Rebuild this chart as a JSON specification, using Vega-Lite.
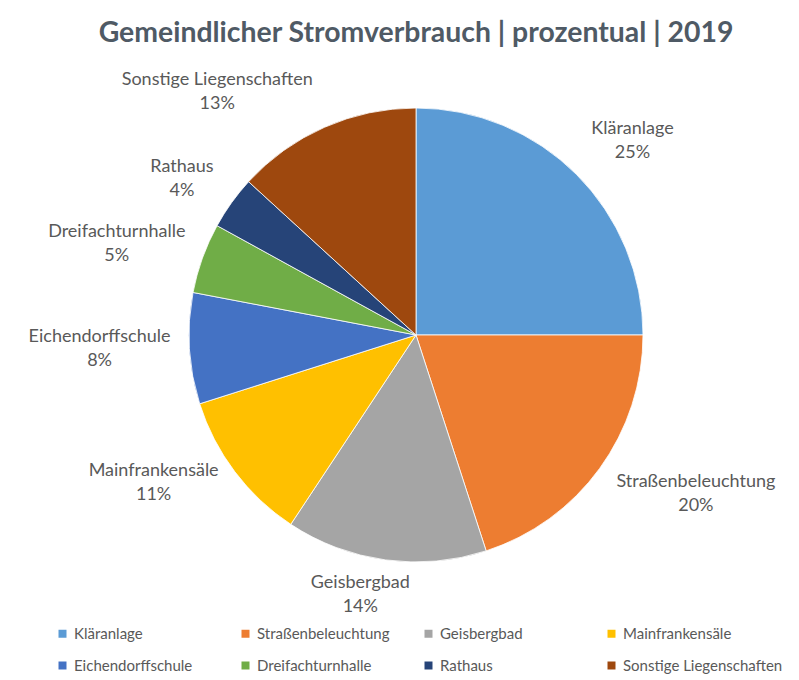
{
  "$schema": "https://vega.github.io/schema/vega-lite/v6.json",
  "autosize": {"type": "none"},
  "width": 766,
  "height": 550,
  "padding": {"left": 33, "top": 60, "right": 0, "bottom": 70},
  "background": "white",
  "title": {
    "text": "Gemeindlicher Stromverbrauch | prozentual | 2019",
    "font": "Lato",
    "fontSize": 28.4,
    "fontWeight": "bold",
    "color": "#4F5A65",
    "anchor": "middle",
    "frame": "group",
    "offset": 12
  },
  "config": {"view": {"stroke": null}},
  "data": {
    "values": [
      {"nr": 1, "name": "Kläranlage", "value": 25.0},
      {"nr": 2, "name": "Straßenbeleuchtung", "value": 20.0},
      {"nr": 3, "name": "Geisbergbad", "value": 14.3},
      {"nr": 4, "name": "Mainfrankensäle", "value": 10.8},
      {"nr": 5, "name": "Eichendorffschule", "value": 7.9},
      {"nr": 6, "name": "Dreifachturnhalle", "value": 5.0},
      {"nr": 7, "name": "Rathaus", "value": 3.8},
      {"nr": 8, "name": "Sonstige Liegenschaften", "value": 13.2}
    ]
  },
  "transform": [
    {"calculate": "datum.name + '\\n' + format(datum.value, '.0f') + '%'", "as": "label"},
    {"stack": "value", "groupby": [], "sort": [{"field": "nr", "order": "ascending"}], "as": ["v0", "v1"]},
    {"calculate": "(datum.v0 + datum.v1) / 2", "as": "mid"}
  ],
  "layer": [
    {
      "mark": {"type": "arc", "outerRadius": 227, "stroke": "white", "strokeWidth": 0.8},
      "encoding": {
        "theta": {"field": "v0", "type": "quantitative", "scale": {"domain": [0, 100]}},
        "theta2": {"field": "v1"},
        "color": {
          "field": "name",
          "type": "nominal",
          "scale": {
            "domain": ["Kläranlage", "Straßenbeleuchtung", "Geisbergbad", "Mainfrankensäle", "Eichendorffschule", "Dreifachturnhalle", "Rathaus", "Sonstige Liegenschaften"],
            "range": ["#5B9BD5", "#ED7D31", "#A5A5A5", "#FFC000", "#4472C4", "#70AD47", "#264478", "#9E480E"]
          },
          "legend": {
            "title": null,
            "orient": "none",
            "direction": "horizontal",
            "legendX": 22,
            "legendY": 566,
            "columns": 4,
            "gridAlign": "all",
            "columnPadding": 4,
            "rowPadding": 16,
            "padding": 0,
            "symbolType": "square",
            "symbolSize": 64,
            "symbolStrokeWidth": 0,
            "labelFont": "Lato",
            "labelFontSize": 15,
            "labelColor": "#595959",
            "labelOffset": 4,
            "labelLimit": 300
          }
        }
      }
    },
    {
      "transform": [{"filter": "datum.name == 'Kläranlage'"}],
      "mark": {"type": "text", "radius": 292, "dx": 10, "font": "Lato", "fontSize": 18, "color": "#595959", "lineBreak": "\n", "lineHeight": 24, "align": "center", "baseline": "middle"},
      "encoding": {"theta": {"field": "mid", "type": "quantitative", "scale": {"domain": [0, 100]}}, "text": {"field": "label"}}
    },
    {
      "transform": [{"filter": "datum.name == 'Straßenbeleuchtung'"}],
      "mark": {"type": "text", "radius": 320, "dx": 21, "dy": -41, "font": "Lato", "fontSize": 18, "color": "#595959", "lineBreak": "\n", "lineHeight": 24, "align": "center", "baseline": "middle"},
      "encoding": {"theta": {"field": "mid", "type": "quantitative", "scale": {"domain": [0, 100]}}, "text": {"field": "label"}}
    },
    {
      "transform": [{"filter": "datum.name == 'Geisbergbad'"}],
      "mark": {"type": "text", "radius": 250, "dx": -22, "font": "Lato", "fontSize": 18, "color": "#595959", "lineBreak": "\n", "lineHeight": 24, "align": "center", "baseline": "middle"},
      "encoding": {"theta": {"field": "mid", "type": "quantitative", "scale": {"domain": [0, 100]}}, "text": {"field": "label"}}
    },
    {
      "transform": [{"filter": "datum.name == 'Mainfrankensäle'"}],
      "mark": {"type": "text", "radius": 290, "dx": -31, "dy": -39, "font": "Lato", "fontSize": 18, "color": "#595959", "lineBreak": "\n", "lineHeight": 24, "align": "center", "baseline": "middle"},
      "encoding": {"theta": {"field": "mid", "type": "quantitative", "scale": {"domain": [0, 100]}}, "text": {"field": "label"}}
    },
    {
      "transform": [{"filter": "datum.name == 'Eichendorffschule'"}],
      "mark": {"type": "text", "radius": 317, "dy": -17, "font": "Lato", "fontSize": 18, "color": "#595959", "lineBreak": "\n", "lineHeight": 24, "align": "center", "baseline": "middle"},
      "encoding": {"theta": {"field": "mid", "type": "quantitative", "scale": {"domain": [0, 100]}}, "text": {"field": "label"}}
    },
    {
      "transform": [{"filter": "datum.name == 'Dreifachturnhalle'"}],
      "mark": {"type": "text", "radius": 318, "dy": 5, "font": "Lato", "fontSize": 18, "color": "#595959", "lineBreak": "\n", "lineHeight": 24, "align": "center", "baseline": "middle"},
      "encoding": {"theta": {"field": "mid", "type": "quantitative", "scale": {"domain": [0, 100]}}, "text": {"field": "label"}}
    },
    {
      "transform": [{"filter": "datum.name == 'Rathaus'"}],
      "mark": {"type": "text", "radius": 288, "font": "Lato", "fontSize": 18, "color": "#595959", "lineBreak": "\n", "lineHeight": 24, "align": "center", "baseline": "middle"},
      "encoding": {"theta": {"field": "mid", "type": "quantitative", "scale": {"domain": [0, 100]}}, "text": {"field": "label"}}
    },
    {
      "transform": [{"filter": "datum.name == 'Sonstige Liegenschaften'"}],
      "mark": {"type": "text", "radius": 270, "dx": -90, "dy": -8, "font": "Lato", "fontSize": 18, "color": "#595959", "lineBreak": "\n", "lineHeight": 24, "align": "center", "baseline": "middle"},
      "encoding": {"theta": {"field": "mid", "type": "quantitative", "scale": {"domain": [0, 100]}}, "text": {"field": "label"}}
    }
  ]
}
